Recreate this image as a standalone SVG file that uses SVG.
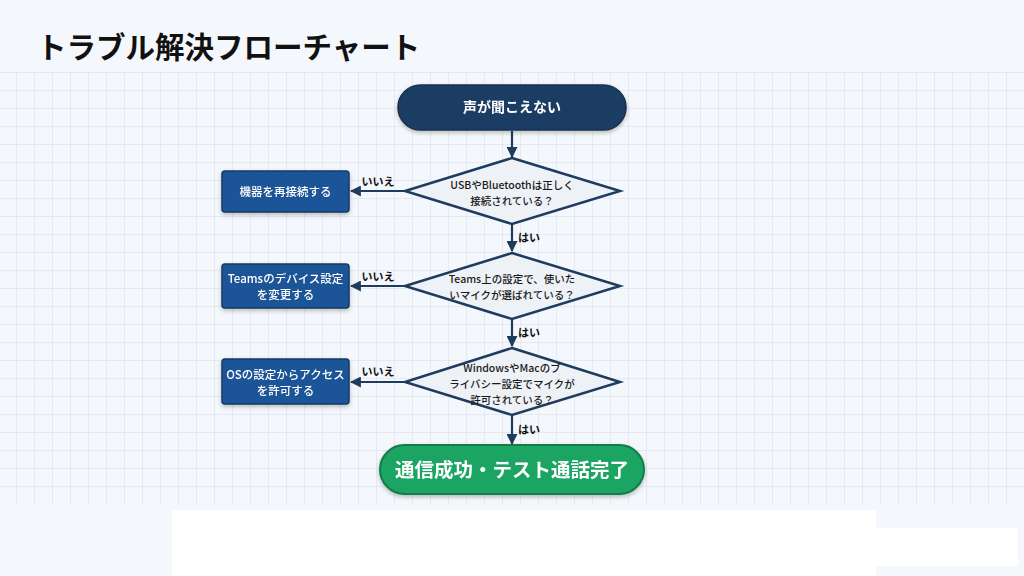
<svg xmlns="http://www.w3.org/2000/svg" width="1024" height="576" viewBox="0 0 1024 576">
<defs>
<pattern id="grid" x="-1" y="72" width="18" height="18" patternUnits="userSpaceOnUse">
<path d="M18 0V18M0 0H18" fill="none" stroke="#d6dde8" stroke-width="1"/>
</pattern>
<marker id="ah" viewBox="0 0 10 10" refX="9" refY="5" markerWidth="5" markerHeight="5" orient="auto-start-reverse" markerUnits="strokeWidth">
<path d="M0 0L10 5L0 10Z" fill="#1f3b5e"/>
</marker>
<filter id="sh" x="-20%" y="-30%" width="140%" height="170%">
<feDropShadow dx="0" dy="2" stdDeviation="2" flood-color="#000" flood-opacity="0.25"/>
</filter>
</defs>
<style>
text{font-family:"Noto Sans CJK JP","Noto Sans",sans-serif;text-anchor:middle}
.title{font-size:29.5px;font-weight:700;fill:#111;text-anchor:start}
.term{fill:#1e3d64;stroke:#17304f;stroke-width:1.5}
.termt{font-size:14px;font-weight:700;fill:#fff}
.dia{fill:#eef1f6;stroke:#1f3b5e;stroke-width:2.5;stroke-linejoin:miter}
.diat{font-size:10.5px;font-weight:500;fill:#1a1a1a}
.box{fill:#1f5597;stroke:#163a66;stroke-width:1.5}
.boxt{font-size:11.5px;font-weight:500;fill:#fff}
.end{fill:#1aa462;stroke:#137a48;stroke-width:2}
.endt{font-size:19.5px;font-weight:700;fill:#fff}
.lbl{font-size:11px;font-weight:700;fill:#111}
.con path{fill:none;stroke:#1f3b5e;stroke-width:2.2;marker-end:url(#ah)}
</style>
<rect width="1024" height="576" fill="#f4f7fb"/>
<rect x="0" y="72" width="1024" height="432" fill="url(#grid)"/>
<rect x="172" y="510" width="704" height="66" fill="#ffffff"/>
<rect x="876" y="528" width="142" height="38" fill="#ffffff"/>
<text class="title" x="37" y="58">トラブル解決フローチャート</text>

<g class="con">
<path d="M512 131V157"/>
<path d="M512 225V251"/>
<path d="M512 320V346"/>
<path d="M512 416V444"/>
<path d="M405 191H351"/>
<path d="M405 286H351"/>
<path d="M405 382H351"/>
<text class="lbl" x="378" y="186">いいえ</text>
<text class="lbl" x="378" y="281">いいえ</text>
<text class="lbl" x="378" y="376">いいえ</text>
<text class="lbl" x="529" y="242">はい</text>
<text class="lbl" x="529" y="337">はい</text>
<text class="lbl" x="529" y="434">はい</text>
</g>

<g id="start" filter="url(#sh)">
<rect class="term" x="398" y="85" width="228" height="45" rx="22.5"/>
<text class="termt" x="512" y="112">声が聞こえない</text>
</g>

<g id="q1">
<path class="dia" d="M512 158L620 191L512 224L405 191Z"/>
<text class="diat" x="512" y="189">USBやBluetoothは正しく</text>
<text class="diat" x="512" y="205">接続されている？</text>
</g>
<g id="a1" filter="url(#sh)">
<rect class="box" x="222" y="171" width="127" height="41" rx="3"/>
<text class="boxt" x="285.5" y="196">機器を再接続する</text>
</g>

<g id="q2">
<path class="dia" d="M512 253L620 286L512 319L405 286Z"/>
<text class="diat" x="512" y="283">Teams上の設定で、使いた</text>
<text class="diat" x="512" y="299">いマイクが選ばれている？</text>
</g>
<g id="a2" filter="url(#sh)">
<rect class="box" x="222" y="264" width="127" height="44" rx="3"/>
<text class="boxt" x="285.5" y="283">Teamsのデバイス設定</text>
<text class="boxt" x="285.5" y="299">を変更する</text>
</g>

<g id="q3">
<path class="dia" d="M512 348L620 382L512 415L405 382Z"/>
<text class="diat" x="512" y="372">WindowsやMacのブ</text>
<text class="diat" x="512" y="388">ライバシー設定でマイクが</text>
<text class="diat" x="512" y="404">許可されている？</text>
</g>
<g id="a3" filter="url(#sh)">
<rect class="box" x="222" y="359" width="127" height="45" rx="3"/>
<text class="boxt" x="285.5" y="379">OSの設定からアクセス</text>
<text class="boxt" x="285.5" y="395">を許可する</text>
</g>

<g id="end" filter="url(#sh)">
<rect class="end" x="380" y="445" width="264" height="49" rx="24.5"/>
<text class="endt" x="512" y="477">通信成功・テスト通話完了</text>
</g>
</svg>
